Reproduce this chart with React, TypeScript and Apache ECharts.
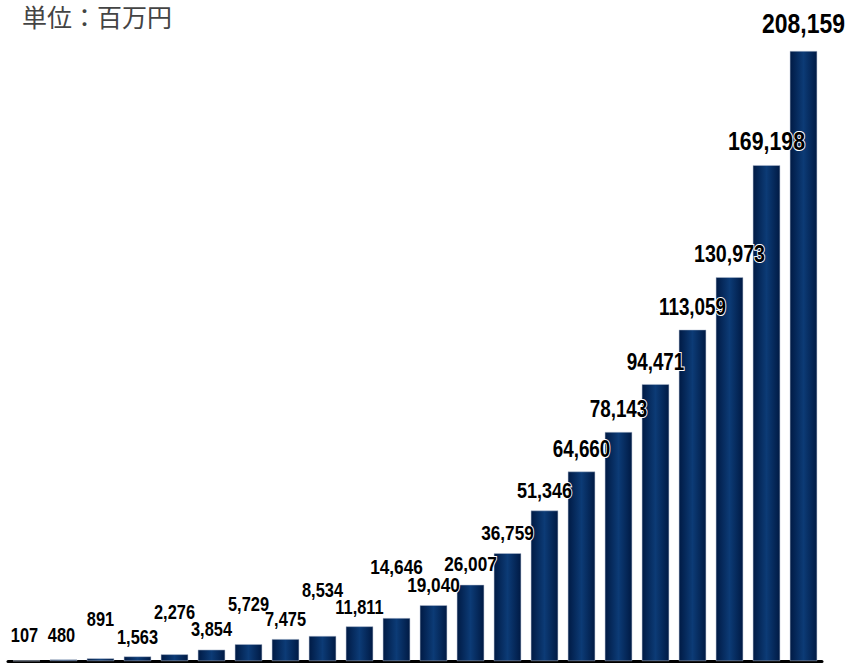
import React, { useEffect, useRef } from "react";
import * as echarts from "echarts";

// Data
const categories = [
  "1", "2", "3", "4", "5", "6", "7", "8", "9", "10", "11",
  "12", "13", "14", "15", "16", "17", "18", "19", "20", "21", "22",
];
const values = [
  107, 480, 891, 1563, 2276, 3854, 5729, 7475, 8534, 11811, 14646,
  19040, 26007, 36759, 51346, 64660, 78143, 94471, 113059, 130973, 169198, 208159,
];
const unitLabel = "単位：百万円";

// Label styling (px) per bar: gap above bar top, font size, horizontal shift
const labelGap = [26, 25, 39, 20, 42, 21, 40, 20, 46, 19, 51, 20, 21, 20, 20, 22.5, 23, 22.5, 23, 23, 24.5, 27.5];
const labelSize = [20, 20, 20, 20, 20, 20, 20, 20, 20, 20, 21, 21, 21, 21, 22, 23, 23, 23, 23, 24, 26, 28];
const labelShift = [-2, -2, 0, 0, 0, 0, 0, 0, 0, 0, 0, 0, 0, 0, 0, 0, 0, 0, 0, 0, 0, 0];

const fmt = (v: number) => v.toLocaleString("en-US");

export default function App() {
  const ref = useRef<HTMLDivElement>(null);
  useEffect(() => {
    if (!ref.current) return;
    const chart = echarts.init(ref.current, undefined, { renderer: "svg" });
    const barColor = new echarts.graphic.LinearGradient(0, 0, 1, 0, [
      { offset: 0, color: "#001a44" },
      { offset: 0.5, color: "#0c3b76" },
      { offset: 1, color: "#001a44" },
    ]);
    chart.setOption({
      animation: false,
      backgroundColor: "#ffffff",
      grid: { left: 8, right: 26, top: 51, bottom: 3, containLabel: false },
      graphic: [
        {
          type: "text",
          left: 22,
          top: 3,
          style: {
            text: unitLabel,
            fontSize: 25,
            fontFamily: "'Noto Sans CJK JP', sans-serif",
            fill: "#444444",
          },
        },
      ],
      xAxis: {
        type: "category",
        data: categories,
        offset: 1.5,
        axisLine: { show: true, lineStyle: { color: "#000000", width: 3 } },
        axisTick: { show: false },
        axisLabel: { show: false },
        splitLine: { show: false },
      },
      yAxis: {
        type: "value",
        min: 0,
        max: 208159,
        show: false,
        splitLine: { show: false },
      },
      series: [
        {
          type: "bar",
          barWidth: "74%",
          data: values,
          itemStyle: {
            color: barColor,
            borderColor: "#b8c2d4",
            borderWidth: 0.5,
          },
          z: 2,
        },
        {
          type: "custom",
          coordinateSystem: "cartesian2d",
          clip: false,
          z: 5,
          data: values.map((v, i) => [i, v]),
          renderItem: (params: any, api: any) => {
            const i = params.dataIndex;
            const p = api.coord([api.value(0), api.value(1)]);
            return {
              type: "text",
              x: p[0] + labelShift[i],
              y: p[1] - labelGap[i],
              scaleX: 0.82,
              style: {
                text: fmt(values[i]),
                fontSize: labelSize[i],
                fontWeight: "bold",
                fontFamily: "'Liberation Sans', Arial, sans-serif",
                fill: "#000000",
                stroke: "#ffffff",
                lineWidth: 2,
                align: "center",
                verticalAlign: "middle",
              },
            };
          },
        },
      ],
    });
    return () => chart.dispose();
  }, []);
  return (
    <div
      ref={ref}
      style={{ position: "fixed", left: 0, top: 0, width: 848, height: 664 }}
    />
  );
}
